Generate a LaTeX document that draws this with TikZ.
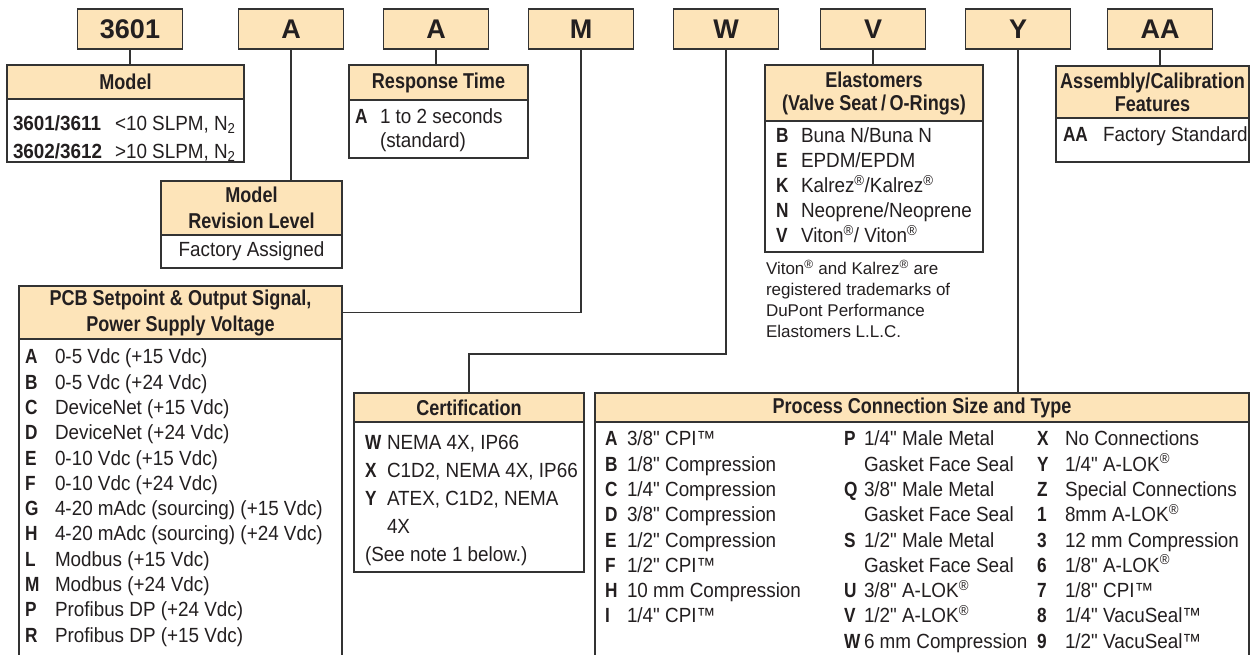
\documentclass[tikz,border=0pt]{standalone}
\usepackage{fontspec}
\setmainfont{Liberation Sans}[FakeStretch=0.92, Ligatures=TeXOff]
\newfontfamily\hdrfamily{Liberation Sans}[FakeStretch=0.84]
\newfontfamily\plainfamily{Liberation Sans}
\usetikzlibrary{positioning}

\definecolor{hdrfill}{HTML}{FDE4B9}
\definecolor{rulecol}{HTML}{333333}
\definecolor{ink}{HTML}{231F20}

% bold code letter in a fixed-width slot, then its text
\newcommand{\itm}[3][30pt]{\makebox[#1][l]{\hdrfamily\bfseries #2}#3}
\newcommand{\modelno}[2]{\makebox[102pt][l]{\bfseries #1}#2}
\newcommand{\reg}{\textsuperscript{®}}

\begin{document}
\begin{tikzpicture}[
    x=1pt, y=-1pt,
    every node/.style={text=ink, outer sep=0pt},
    codebox/.style={
        draw=rulecol, line width=1.6pt, fill=hdrfill,
        minimum width=105pt, minimum height=40pt, inner sep=0pt,
        font=\plainfamily\bfseries\fontsize{27}{30}\selectfont,
    },
    hdr/.style={
        draw=rulecol, line width=1.6pt, fill=hdrfill, anchor=north west,
        inner sep=0pt, align=center,
        font=\hdrfamily\bfseries\fontsize{21.5}{23}\selectfont,
    },
    tbody/.style={
        draw=rulecol, line width=1.6pt, fill=white, anchor=north west,
        inner sep=0pt, font=\fontsize{20.5}{25}\selectfont,
    },
    list/.style={
        anchor=north west, inner sep=0pt, align=left,
        font=\fontsize{20.5}{25.3}\selectfont,
    },
    link/.style={draw=rulecol, line width=1.6pt},
]
\useasboundingbox (0,0) rectangle (1250,654);

% --- Model code boxes ---
\foreach \name/\cx/\txt in {c3601/130/3601, cA/291/A, cAb/436/A, cM/581/M,
                             cW/726/W, cV/873/V, cY/1018/Y, cAA/1160/AA}
    \node[codebox] (\name) at (\cx,29) {\txt};

% --- Model ---
\node[hdr, minimum width=237pt, minimum height=34pt] (modelhd) at (7,65) {Model};
\node[tbody, minimum width=237pt, minimum height=63pt] (modelbody) at (modelhd.south west) {};
\node[list, font=\fontsize{20.5}{28}\selectfont] (modellist) at (13,116)
    {\modelno{3601/3611}{<10 SLPM, N\textsubscript{2}}\\
     \modelno{3602/3612}{>10 SLPM, N\textsubscript{2}}};

% --- Response Time ---
\node[hdr, minimum width=179pt, minimum height=35pt] (resphd) at (349,65) {Response Time};
\node[tbody, minimum width=179pt, minimum height=58pt] (respbody) at (resphd.south west) {};
\node[list, font=\fontsize{20.5}{24}\selectfont] (resplist) at (355,109)
    {\itm[25pt]{A}{1 to 2 seconds}\\
     \itm[25pt]{}{(standard)}};

% --- Model Revision Level ---
\node[hdr, minimum width=181pt, minimum height=54pt,
      font=\hdrfamily\bfseries\fontsize{21.5}{26}\selectfont] (revhd) at (161,181)
    {Model\\Revision Level};
\node[tbody, minimum width=181pt, minimum height=33pt] (revbody) at (revhd.south west)
    {Factory Assigned};

% --- PCB Setpoint & Output Signal ---
\node[hdr, minimum width=323pt, minimum height=53pt,
      font=\hdrfamily\bfseries\fontsize{21.5}{26}\selectfont] (pcbhd) at (19,286)
    {PCB Setpoint \& Output Signal,\\Power Supply Voltage};
\node[tbody, minimum width=323pt, minimum height=340pt] (pcbbody) at (pcbhd.south west) {};
\node[list] (pcblist) at (25,349)
    {\itm{A}{0-5 Vdc (+15 Vdc)}\\
     \itm{B}{0-5 Vdc (+24 Vdc)}\\
     \itm{C}{DeviceNet (+15 Vdc)}\\
     \itm{D}{DeviceNet (+24 Vdc)}\\
     \itm{E}{0-10 Vdc (+15 Vdc)}\\
     \itm{F}{0-10 Vdc (+24 Vdc)}\\
     \itm{G}{4-20 mAdc (sourcing) (+15 Vdc)}\\
     \itm{H}{4-20 mAdc (sourcing) (+24 Vdc)}\\
     \itm{L}{Modbus (+15 Vdc)}\\
     \itm{M}{Modbus (+24 Vdc)}\\
     \itm{P}{Profibus DP (+24 Vdc)}\\
     \itm{R}{Profibus DP (+15 Vdc)}};

% --- Certification ---
\node[hdr, minimum width=230pt, minimum height=29pt] (certhd) at (354,393) {Certification};
\node[tbody, minimum width=230pt, minimum height=150pt] (certbody) at (certhd.south west) {};
\node[list, font=\fontsize{20.5}{28}\selectfont] (certlist) at (365,435)
    {\itm[22pt]{W}{NEMA 4X, IP66}\\
     \itm[22pt]{X}{C1D2, NEMA 4X, IP66}\\
     \itm[22pt]{Y}{ATEX, C1D2, NEMA}\\
     \itm[22pt]{}{4X}\\
     (See note 1 below.)};

% --- Process Connection Size and Type ---
\node[hdr, minimum width=654pt, minimum height=29pt] (prochd) at (595,393)
    {Process Connection Size and Type};
\node[tbody, minimum width=654pt, minimum height=260pt] (procbody) at (prochd.south west) {};
\node[list] (proclista) at (605,431)
    {\itm[22pt]{A}{3/8" CPI™}\\
     \itm[22pt]{B}{1/8" Compression}\\
     \itm[22pt]{C}{1/4" Compression}\\
     \itm[22pt]{D}{3/8" Compression}\\
     \itm[22pt]{E}{1/2" Compression}\\
     \itm[22pt]{F}{1/2" CPI™}\\
     \itm[22pt]{H}{10 mm Compression}\\
     \itm[22pt]{I}{1/4" CPI™}};
\node[list] (proclistb) at (844,431)
    {\itm[20pt]{P}{1/4" Male Metal}\\
     \itm[20pt]{}{Gasket Face Seal}\\
     \itm[20pt]{Q}{3/8" Male Metal}\\
     \itm[20pt]{}{Gasket Face Seal}\\
     \itm[20pt]{S}{1/2" Male Metal}\\
     \itm[20pt]{}{Gasket Face Seal}\\
     \itm[20pt]{U}{3/8" A-LOK\reg}\\
     \itm[20pt]{V}{1/2" A-LOK\reg}\\
     \itm[20pt]{W}{6 mm Compression}};
\node[list] (proclistc) at (1037,431)
    {\itm[28pt]{X}{No Connections}\\
     \itm[28pt]{Y}{1/4" A-LOK\reg}\\
     \itm[28pt]{Z}{Special Connections}\\
     \itm[28pt]{1}{8mm A-LOK\reg}\\
     \itm[28pt]{3}{12 mm Compression}\\
     \itm[28pt]{6}{1/8" A-LOK\reg}\\
     \itm[28pt]{7}{1/8" CPI™}\\
     \itm[28pt]{8}{1/4" VacuSeal™}\\
     \itm[28pt]{9}{1/2" VacuSeal™}};

% --- Elastomers ---
\node[hdr, minimum width=218pt, minimum height=56pt] (elasthd) at (765,65)
    {Elastomers\\(Valve Seat\,/\,O-Rings)};
\node[tbody, minimum width=218pt, minimum height=131pt] (elastbody) at (elasthd.south west) {};
\node[list, font=\fontsize{20.5}{25}\selectfont] (elastlist) at (776,128)
    {\itm[25pt]{B}{Buna N/Buna N}\\
     \itm[25pt]{E}{EPDM/EPDM}\\
     \itm[25pt]{K}{Kalrez\reg/Kalrez\reg}\\
     \itm[25pt]{N}{Neoprene/Neoprene}\\
     \itm[25pt]{V}{Viton\reg/ Viton\reg}};
\node[list, font=\plainfamily\fontsize{17}{21}\selectfont] (tmnote) at (766,260)
    {Viton\reg{} and Kalrez\reg{} are\\
     registered trademarks of\\
     DuPont Performance\\
     Elastomers L.L.C.};

% --- Assembly/Calibration Features ---
\node[hdr, minimum width=193pt, minimum height=52pt] (asmhd) at (1056,66)
    {Assembly/Calibration\\Features};
\node[tbody, minimum width=193pt, minimum height=44pt] (asmbody) at (asmhd.south west) {};
\node[list] (asmlist) at (1063,127) {\itm[40pt]{AA}{Factory Standard}};

% --- Connectors ---
\coordinate (wturn) at (726,354);
\draw[link] (c3601.south) -- (c3601.south |- modelhd.north);
\draw[link] (cA.south) -- (cA.south |- revhd.north);
\draw[link] (cAb.south) -- (cAb.south |- resphd.north);
\draw[link] (cM.south) |- (pcbhd.east);
\draw[link] (cW.south) -- (wturn) -| (certhd.north);
\draw[link] (cV.south) -- (cV.south |- elasthd.north);
\draw[link] (cY.south) -- (cY.south |- prochd.north);
\draw[link] (cAA.south) -- (cAA.south |- asmhd.north);

\end{tikzpicture}
\end{document}
